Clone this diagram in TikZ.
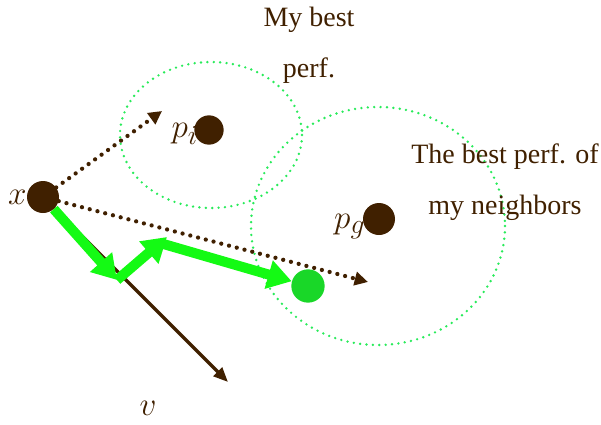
\documentclass[tikz,border=0pt]{standalone}
\usepackage{fontspec}
\setmainfont{Liberation Serif}
\usepackage{amsmath}
\usepackage{xcolor}
\usetikzlibrary{arrows.meta,positioning}

\definecolor{dkbrown}{RGB}{64,32,0}
\definecolor{lime}{RGB}{20,250,20}
\definecolor{ringgreen}{RGB}{40,235,90}
\definecolor{dotgreen}{RGB}{25,215,40}

\tikzset{
  dot/.style={circle, fill=dkbrown, inner sep=0pt, minimum size=24pt},
  ring/.style={color=ringgreen, line width=2pt, line cap=round, dash pattern=on 0pt off 4.8pt},
  guess/.style={color=dkbrown, line width=3.2pt, line cap=round, dash pattern=on 0pt off 6pt,
    -{Triangle[length=10pt,width=10pt]}},
  velo/.style={color=dkbrown, line width=2.4pt, -{Triangle[length=11pt,width=9pt]}},
  move/.style={color=lime, line width=7.5pt, -{Triangle[length=18pt,width=21pt]}},
  mlabel/.style={inner sep=0pt, text=dkbrown, font=\fontsize{32}{36}\selectfont},
  note/.style={inner sep=0pt, align=center, text=dkbrown, font=\fontsize{21}{38}\selectfont}
}

\begin{document}
\begin{tikzpicture}[x=0.75pt,y=0.75pt,yscale=-1,xscale=1]
\useasboundingbox (0,0) rectangle (601,425);

%Shape: Ellipse [id:own-area]
\draw [ring] (211,135) ellipse [x radius=91, y radius=73];
%Shape: Ellipse [id:nbr-area]
\draw [ring] (378,226) ellipse [x radius=127, y radius=119];

% Dots
\node [dot] (x) at (43,197) {};
\node [dot, minimum size=22pt] (pi) at (209,130) {};
\node [dot] (pg) at (379,219) {};
\node [dot, fill=dotgreen, minimum size=25pt] (gd) at (308,286) {};

% Free ends
\coordinate (tipi) at (162,111);
\coordinate (tipg) at (368,282);
\coordinate (tipv) at (228,382);
\coordinate (g1) at (117,280);
\coordinate (g2) at (167,237);
\coordinate (g3) at (160,243);

%Straight Lines [id:velocity]
\draw [velo] (x) -- (tipv);
%Straight Lines [id:to-pi]
\draw [guess] (x) -- (tipi);
%Straight Lines [id:to-pg]
\draw [guess] (x) -- (tipg);

%Straight Lines [id:moves]
\draw [move] (x) -- (g1);
\draw [move] (g1) -- (g2);
\draw [move] (g3) -- (gd);

% Text Node
\node [mlabel, left=0pt of x] (xlab) {$x$};
% Text Node
\node [mlabel, left=-3pt of pi, yshift=-3pt] (pilab) {$p_i$};
% Text Node
\node [mlabel, left=-2pt of pg, yshift=-6pt] (pglab) {$p_g$};
% Text Node
\node [mlabel] (vlab) at (148,408) {$v$};

% Text Node
\node [note, anchor=north] (own) at (309,7) {My best\\perf.};
% Text Node
\node [note, anchor=north] (nbrs) at (505,144) {The best perf. of\\my neighbors};
\end{tikzpicture}
\end{document}
